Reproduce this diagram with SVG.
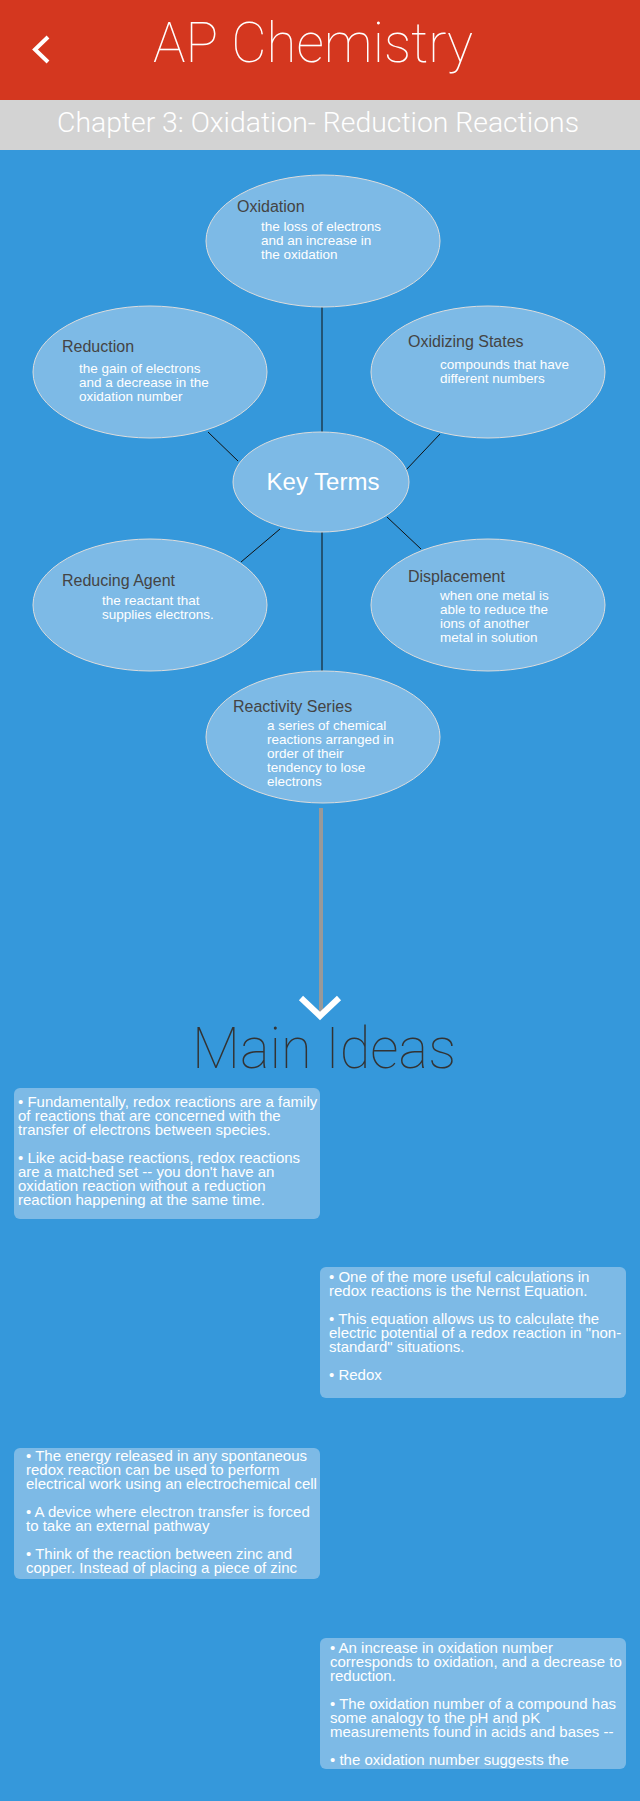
<svg xmlns="http://www.w3.org/2000/svg" width="640" height="1801" viewBox="0 0 640 1801">
<style>
.node{fill:#7dbae6;stroke:#dcdcdc;stroke-width:1}
.ttl{font-family:"Liberation Sans",Arial,sans-serif;font-size:16px;fill:#444}
.body{font-family:"Liberation Sans",Arial,sans-serif;font-size:13.5px;fill:#fff}
.conn line{stroke:#111;stroke-width:1}
.box{fill:#7dbae6}
.bt{font-family:"Liberation Sans",Arial,sans-serif;font-size:15px;fill:#fff}
</style>
<rect x="0" y="0" width="640" height="1801" fill="#3598db"/>
<g id="header">
<rect x="0" y="0" width="640" height="100" fill="#d4371f"/>
<polyline points="48,37 35,49.5 48,62" fill="none" stroke="#fff" stroke-width="4"/>
<text x="313" y="62" text-anchor="middle" font-family="Roboto,'Liberation Sans',sans-serif" font-weight="100" font-size="56" fill="#fff" textLength="320" lengthAdjust="spacingAndGlyphs">AP Chemistry</text>
<rect x="0" y="100" width="640" height="50" fill="#d3d3d3"/>
<text x="57" y="132" font-family="Roboto,'Liberation Sans',sans-serif" font-weight="300" font-size="28" fill="#fff" textLength="522" lengthAdjust="spacingAndGlyphs">Chapter 3: Oxidation- Reduction Reactions</text>
</g>
<g id="connectors" class="conn">
<line x1="322" y1="307" x2="322" y2="432"/>
<line x1="208" y1="432" x2="238" y2="461"/>
<line x1="440" y1="434" x2="406" y2="470"/>
<line x1="280" y1="529" x2="241" y2="562"/>
<line x1="387" y1="517" x2="421" y2="549"/>
<line x1="322" y1="532" x2="322" y2="671"/>
<line x1="321" y1="808" x2="321" y2="1012" style="stroke:#999;stroke-width:4"/>
<polyline points="301,998 320,1016 339,998" fill="none" stroke="#fff" stroke-width="6"/>
</g>
<g id="oxidation">
<ellipse class="node" cx="323" cy="241" rx="117" ry="66"/>
<text class="ttl" x="237" y="212">Oxidation</text>
<text class="body" x="261" y="231">the loss of electrons</text>
<text class="body" x="261" y="245">and an increase in</text>
<text class="body" x="261" y="259">the oxidation</text>
</g>
<g id="reduction">
<ellipse class="node" cx="150" cy="372" rx="117" ry="66"/>
<text class="ttl" x="62" y="352">Reduction</text>
<text class="body" x="79" y="373">the gain of electrons</text>
<text class="body" x="79" y="387">and a decrease in the</text>
<text class="body" x="79" y="401">oxidation number</text>
</g>
<g id="oxidizing-states">
<ellipse class="node" cx="488" cy="372" rx="117" ry="66"/>
<text class="ttl" x="408" y="347">Oxidizing States</text>
<text class="body" x="440" y="369">compounds that have</text>
<text class="body" x="440" y="383">different numbers</text>
</g>
<g id="key-terms">
<ellipse class="node" cx="321" cy="482" rx="88" ry="50"/>
<text x="323" y="490" text-anchor="middle" font-family="'Liberation Sans',Arial,sans-serif" font-size="24" fill="#fff">Key Terms</text>
</g>
<g id="reducing-agent">
<ellipse class="node" cx="150" cy="605" rx="117" ry="66"/>
<text class="ttl" x="62" y="586">Reducing Agent</text>
<text class="body" x="102" y="605">the reactant that</text>
<text class="body" x="102" y="619">supplies electrons.</text>
</g>
<g id="displacement">
<ellipse class="node" cx="488" cy="605" rx="117" ry="66"/>
<text class="ttl" x="408" y="582">Displacement</text>
<text class="body" x="440" y="600">when one metal is</text>
<text class="body" x="440" y="614">able to reduce the</text>
<text class="body" x="440" y="628">ions of another</text>
<text class="body" x="440" y="642">metal in solution</text>
</g>
<g id="reactivity-series">
<ellipse class="node" cx="323" cy="737" rx="117" ry="66"/>
<text class="ttl" x="233" y="712">Reactivity Series</text>
<text class="body" x="267" y="730">a series of chemical</text>
<text class="body" x="267" y="744">reactions arranged in</text>
<text class="body" x="267" y="758">order of their</text>
<text class="body" x="267" y="772">tendency to lose</text>
<text class="body" x="267" y="786">electrons</text>
</g>
<g id="main-ideas">
<text x="324" y="1068" text-anchor="middle" font-family="Roboto,'Liberation Sans',sans-serif" font-weight="100" font-size="58" fill="#333" textLength="264" lengthAdjust="spacingAndGlyphs">Main Ideas</text>
</g>
<g id="box1">
<rect class="box" x="14" y="1088" width="306" height="131" rx="6"/>
<text class="bt" x="18" y="1107">• Fundamentally, redox reactions are a family</text>
<text class="bt" x="18" y="1121">of reactions that are concerned with the</text>
<text class="bt" x="18" y="1135">transfer of electrons between species.</text>
<text class="bt" x="18" y="1163">• Like acid-base reactions, redox reactions</text>
<text class="bt" x="18" y="1177">are a matched set -- you don't have an</text>
<text class="bt" x="18" y="1191">oxidation reaction without a reduction</text>
<text class="bt" x="18" y="1205">reaction happening at the same time.</text>
</g>
<g id="box2">
<rect class="box" x="320" y="1267" width="306" height="131" rx="6"/>
<text class="bt" x="329" y="1282">• One of the more useful calculations in</text>
<text class="bt" x="329" y="1296">redox reactions is the Nernst Equation.</text>
<text class="bt" x="329" y="1324">• This equation allows us to calculate the</text>
<text class="bt" x="329" y="1338">electric potential of a redox reaction in "non-</text>
<text class="bt" x="329" y="1352">standard" situations.</text>
<text class="bt" x="329" y="1380">• Redox</text>
</g>
<g id="box3">
<rect class="box" x="14" y="1448" width="306" height="131" rx="6"/>
<text class="bt" x="26" y="1461">• The energy released in any spontaneous</text>
<text class="bt" x="26" y="1475">redox reaction can be used to perform</text>
<text class="bt" x="26" y="1489">electrical work using an electrochemical cell</text>
<text class="bt" x="26" y="1517">• A device where electron transfer is forced</text>
<text class="bt" x="26" y="1531">to take an external pathway</text>
<text class="bt" x="26" y="1559">• Think of the reaction between zinc and</text>
<text class="bt" x="26" y="1573">copper. Instead of placing a piece of zinc</text>
</g>
<g id="box4">
<rect class="box" x="320" y="1638" width="306" height="131" rx="6"/>
<text class="bt" x="330" y="1653">• An increase in oxidation number</text>
<text class="bt" x="330" y="1667">corresponds to oxidation, and a decrease to</text>
<text class="bt" x="330" y="1681">reduction.</text>
<text class="bt" x="330" y="1709">• The oxidation number of a compound has</text>
<text class="bt" x="330" y="1723">some analogy to the pH and pK</text>
<text class="bt" x="330" y="1737">measurements found in acids and bases --</text>
<text class="bt" x="330" y="1765">• the oxidation number suggests the</text>
</g>
</svg>
